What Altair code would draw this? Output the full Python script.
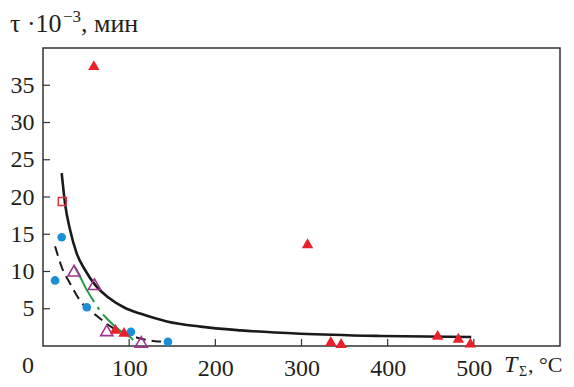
import altair as alt
import pandas as pd

# --- data ---
red_tri_x = [59, 84, 94, 307, 334, 346, 458, 482, 496]
red_tri_y = [37.7, 2.3, 1.9, 13.8, 0.67, 0.4, 1.5, 1.1, 0.45]

blue_x = [14, 21.7, 50.8, 102, 145]
blue_y = [8.8, 14.6, 5.2, 1.9, 0.55]

purple_x = [36, 59.7, 74, 114]
purple_y = [10.1, 8.3, 2.1, 0.55]

square_x = [22.4]
square_y = [19.4]

solid_x = [21.7, 25.6, 31.4, 39.2, 48.8, 60.5, 75.9, 95.3, 112.8, 143.8, 182.6, 229, 299, 392, 497]
solid_y = [23.2, 19.1, 15.6, 12.4, 10.2, 8.2, 6.5, 5.1, 4.35, 3.3, 2.6, 2.1, 1.65, 1.35, 1.2]

dashed_x = [14, 21.7, 31.4, 43, 64, 80, 95, 113, 130, 137]
dashed_y = [13.4, 10.6, 8.4, 6.1, 3.9, 2.5, 1.7, 1.0, 0.65, 0.6]

green_x = [37, 43, 50, 60.5, 67, 74, 82, 90, 101, 108]
green_y = [10.6, 9.3, 7.7, 5.7, 4.6, 3.7, 2.8, 2.0, 1.2, 0.4]

x_ticks = [100, 200, 300, 400, 500]
y_ticks = [5, 10, 15, 20, 25, 30, 35]

W, H = 517, 298
FONT = "Liberation Serif, Times New Roman, DejaVu Serif, serif"
TXT = "#231f20"

xs = alt.Scale(domain=[0, 600], nice=False, zero=False)
ys = alt.Scale(domain=[0, 40], nice=False, zero=False)

def df(x, y):
    return pd.DataFrame({"x": x, "y": y})

X = alt.X("x:Q", scale=xs, axis=alt.Axis(values=x_ticks, title=None, grid=False, domain=False,
                                          ticks=False, labelFontSize=24, labelFont=FONT,
                                          labelColor=TXT, labelPadding=10))
Y = alt.Y("y:Q", scale=ys, axis=alt.Axis(values=y_ticks, title=None, grid=False, domain=False,
                                          ticks=False, labelFontSize=24, labelFont=FONT,
                                          labelColor=TXT, labelPadding=9))

solid = alt.Chart(df(solid_x, solid_y)).mark_line(color="#1a1a1a", strokeWidth=2.6, interpolate="monotone").encode(x=X, y=Y)
dashed = alt.Chart(df(dashed_x, dashed_y)).mark_line(color="#1a1a1a", strokeWidth=2, strokeDash=[10, 6], interpolate="monotone").encode(x="x:Q", y="y:Q")
green = alt.Chart(df(green_x, green_y)).mark_line(color="#1f9a45", strokeWidth=2, strokeDash=[40, 6, 3, 6], interpolate="monotone").encode(x="x:Q", y="y:Q")

blue = alt.Chart(df(blue_x, blue_y)).mark_point(shape="circle", filled=True, color="#1b8fd6", size=75, opacity=1).encode(x="x:Q", y="y:Q")
purple = alt.Chart(df(purple_x, purple_y)).mark_point(shape="triangle-up", filled=False, color="#a0338f", size=150, strokeWidth=1.6, opacity=1).encode(x="x:Q", y="y:Q")
red = alt.Chart(df(red_tri_x, red_tri_y)).mark_point(shape="triangle-up", filled=True, color="#e8202a", size=130, opacity=1).encode(x="x:Q", y="y:Q")
square = alt.Chart(df(square_x, square_y)).mark_point(shape="square", filled=False, color="#e8303a", size=64, strokeWidth=1.5, opacity=1).encode(x="x:Q", y="y:Q")

xt = alt.Chart(pd.DataFrame({"x": x_ticks})).mark_rule(color="#333", strokeWidth=1.2).encode(
    x="x:Q", y=alt.value(H), y2=alt.value(H - 7))
yt = alt.Chart(pd.DataFrame({"y": y_ticks})).mark_rule(color="#333", strokeWidth=1.2).encode(
    y="y:Q", x=alt.value(0), x2=alt.value(7))

def label(text, x, y, size=24, style="normal", align="left"):
    return alt.Chart(pd.DataFrame({"t": [text]})).mark_text(
        font=FONT, fontSize=size, fontStyle=style, color=TXT, align=align, baseline="alphabetic"
    ).encode(text="t:N", x=alt.value(x), y=alt.value(y))

texts = [
    label("τ ·10", -33, -16, size=26),
    label("−3", 20, -26, size=17),
    label(", мин", 38, -16, size=26),
    label("0", -15, 325, align="center"),
    label("T", 461, 324, style="italic"),
    label("Σ", 476, 328, size=14),
    label(", °C", 485, 324, size=22),
]

chart = alt.layer(xt, yt, solid, dashed, green, purple, blue, square, red, *texts).properties(
    width=W, height=H, autosize="none",
    padding={"left": 35, "top": 40, "right": 6, "bottom": 33},
).configure_view(stroke="#333", strokeWidth=1.5)

chart.save("out.html", embed_options={"renderer": "svg", "actions": False})
